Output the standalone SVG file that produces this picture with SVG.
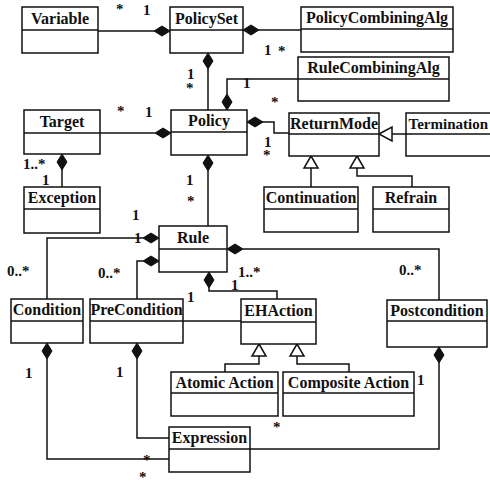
<svg xmlns="http://www.w3.org/2000/svg" width="490" height="486" viewBox="0 0 490 486">
<style>
.box{fill:#fff;stroke:#111;stroke-width:1.5}
.div{stroke:#111;stroke-width:1.5}
.nm{font-family:'Liberation Serif',serif;font-weight:bold;font-size:16px;fill:#111;text-anchor:middle}
.lb{font-family:'Liberation Serif',serif;font-weight:bold;font-size:15px;fill:#111}
.cn{fill:none;stroke:#111;stroke-width:1.5}
.dm{fill:#111;stroke:#111;stroke-width:1}
.tr{fill:#fff;stroke:#111;stroke-width:1.5}
</style>
<defs>
<path id="dh" d="M-8,0 L0,-5 L8,0 L0,5 Z"/>
<path id="dv" d="M0,-8 L5,0 L0,8 L-5,0 Z"/>
<path id="tu" d="M0,0 L7,12 L-7,12 Z"/>
<path id="tl" d="M0,0 L13,-7 L13,7 Z"/>
</defs>
<rect width="490" height="486" fill="#fff"/>

<g id="connectors">
<path class="cn" d="M98,31 H155"/>
<path class="cn" d="M258,30 H301"/>
<path class="cn" d="M208,68 V110"/>
<path class="cn" d="M227,95 V79 H298"/>
<path class="cn" d="M100,133 H155"/>
<path class="cn" d="M262,122 H274 V133 H289"/>
<path class="cn" d="M392,134 H406"/>
<path class="cn" d="M311,168 V187"/>
<path class="cn" d="M357,168 V176 H412 V187"/>
<path class="cn" d="M62,169 V187"/>
<path class="cn" d="M208,170 V226"/>
<path class="cn" d="M143,238 H47 V299"/>
<path class="cn" d="M143,261 H137 V299"/>
<path class="cn" d="M209,287 V291 H277 V299"/>
<path class="cn" d="M243,249 H439 V300"/>
<path class="cn" d="M183,321 H241"/>
<path class="cn" d="M259,356 V364 H225 V372"/>
<path class="cn" d="M297,356 V364 H349 V372"/>
<path class="cn" d="M47,358 V459 H169"/>
<path class="cn" d="M137,358 V438 H169"/>
<path class="cn" d="M439,362 V449 H250"/>
<use href="#dh" class="dm" x="162" y="31"/>
<use href="#dh" class="dm" x="251" y="30"/>
<use href="#dv" class="dm" x="208" y="61"/>
<use href="#dv" class="dm" x="227" y="102"/>
<use href="#dh" class="dm" x="163" y="133"/>
<use href="#dh" class="dm" x="255" y="122"/>
<use href="#tl" class="tr" x="379" y="134"/>
<use href="#tu" class="tr" x="311" y="156"/>
<use href="#tu" class="tr" x="357" y="156"/>
<use href="#dv" class="dm" x="62" y="162"/>
<use href="#dv" class="dm" x="208" y="163"/>
<use href="#dh" class="dm" x="151" y="238"/>
<use href="#dh" class="dm" x="151" y="261"/>
<use href="#dv" class="dm" x="209" y="280"/>
<use href="#dh" class="dm" x="235" y="249"/>
<use href="#tu" class="tr" x="259" y="344"/>
<use href="#tu" class="tr" x="297" y="344"/>
<use href="#dv" class="dm" x="47" y="351"/>
<use href="#dv" class="dm" x="137" y="351"/>
<use href="#dv" class="dm" x="439" y="355"/>
</g>

<g id="labels">
<text class="lb" x="116" y="14">*</text>
<text class="lb" x="143" y="15">1</text>
<text class="lb" x="264" y="55">1</text>
<text class="lb" x="278" y="56">*</text>
<text class="lb" x="187" y="79">1</text>
<text class="lb" x="186" y="93">*</text>
<text class="lb" x="243" y="88">1</text>
<text class="lb" x="271" y="107">*</text>
<text class="lb" x="117" y="116">*</text>
<text class="lb" x="145" y="117">1</text>
<text class="lb" x="264" y="147">1</text>
<text class="lb" x="263" y="160">*</text>
<text class="lb" x="23" y="169">1..*</text>
<text class="lb" x="42" y="185">1</text>
<text class="lb" x="186" y="185">1</text>
<text class="lb" x="187" y="206">*</text>
<text class="lb" x="132" y="220">1</text>
<text class="lb" x="134" y="243">1</text>
<text class="lb" x="7" y="276">0..*</text>
<text class="lb" x="98" y="278">0..*</text>
<text class="lb" x="238" y="277">1..*</text>
<text class="lb" x="231" y="290">1</text>
<text class="lb" x="187" y="302">1</text>
<text class="lb" x="399" y="275">0..*</text>
<text class="lb" x="417" y="385">1</text>
<text class="lb" x="273" y="432">*</text>
<text class="lb" x="25" y="378">1</text>
<text class="lb" x="116" y="377">1</text>
<text class="lb" x="143" y="465">*</text>
<text class="lb" x="139" y="482">*</text>
</g>

<g id="Variable"><rect class="box" x="22" y="7" width="76" height="46"/><line class="div" x1="22" y1="30" x2="98" y2="30"/><text class="nm" x="60" y="24">Variable</text></g>
<g id="PolicySet"><rect class="box" x="170" y="7" width="73" height="46"/><line class="div" x1="170" y1="30" x2="243" y2="30"/><text class="nm" x="206.5" y="24">PolicySet</text></g>
<g id="PolicyCombiningAlg"><rect class="box" x="301" y="7" width="152" height="45"/><line class="div" x1="301" y1="29" x2="453" y2="29"/><text class="nm" x="377" y="23">PolicyCombiningAlg</text></g>
<g id="RuleCombiningAlg"><rect class="box" x="298" y="57" width="151" height="44"/><line class="div" x1="298" y1="79" x2="449" y2="79"/><text class="nm" x="373.5" y="73">RuleCombiningAlg</text></g>
<g id="Target"><rect class="box" x="24" y="110" width="76" height="44"/><line class="div" x1="24" y1="133" x2="100" y2="133"/><text class="nm" x="62" y="127">Target</text></g>
<g id="Policy"><rect class="box" x="171" y="110" width="76" height="45"/><line class="div" x1="171" y1="132" x2="247" y2="132"/><text class="nm" x="209" y="126">Policy</text></g>
<g id="ReturnMode"><rect class="box" x="289" y="113" width="90" height="43"/><line class="div" x1="289" y1="134" x2="379" y2="134"/><text class="nm" x="334" y="129">ReturnMode</text></g>
<g id="Termination"><rect class="box" x="406" y="113" width="95" height="43"/><line class="div" x1="406" y1="134" x2="501" y2="134"/><text class="nm" x="488" y="129" style="text-anchor:end;font-size:15px">Termination</text></g>
<g id="Exception"><rect class="box" x="24" y="187" width="76" height="46"/><line class="div" x1="24" y1="209" x2="100" y2="209"/><text class="nm" x="62" y="203">Exception</text></g>
<g id="Continuation"><rect class="box" x="264" y="187" width="94" height="45"/><line class="div" x1="264" y1="209" x2="358" y2="209"/><text class="nm" x="311" y="203">Continuation</text></g>
<g id="Refrain"><rect class="box" x="373" y="187" width="76" height="45"/><line class="div" x1="373" y1="209" x2="449" y2="209"/><text class="nm" x="411" y="203">Refrain</text></g>
<g id="Rule"><rect class="box" x="159" y="226" width="68" height="46"/><line class="div" x1="159" y1="249" x2="227" y2="249"/><text class="nm" x="193" y="243">Rule</text></g>
<g id="Condition"><rect class="box" x="11" y="299" width="72" height="44"/><line class="div" x1="11" y1="321" x2="83" y2="321"/><text class="nm" x="47" y="315">Condition</text></g>
<g id="PreCondition"><rect class="box" x="90" y="299" width="93" height="44"/><line class="div" x1="90" y1="321" x2="183" y2="321"/><text class="nm" x="136.5" y="315">PreCondition</text></g>
<g id="EHAction"><rect class="box" x="241" y="299" width="75" height="45"/><line class="div" x1="241" y1="322" x2="316" y2="322"/><text class="nm" x="278.5" y="316">EHAction</text></g>
<g id="Postcondition"><rect class="box" x="387" y="300" width="100" height="47"/><line class="div" x1="387" y1="321" x2="487" y2="321"/><text class="nm" x="437" y="316">Postcondition</text></g>
<g id="AtomicAction"><rect class="box" x="171" y="372" width="107" height="44"/><line class="div" x1="171" y1="393" x2="278" y2="393"/><text class="nm" x="224.5" y="388">Atomic Action</text></g>
<g id="CompositeAction"><rect class="box" x="283" y="372" width="131" height="44"/><line class="div" x1="283" y1="393" x2="414" y2="393"/><text class="nm" x="348.5" y="388">Composite Action</text></g>
<g id="Expression"><rect class="box" x="169" y="427" width="81" height="45"/><line class="div" x1="169" y1="449" x2="250" y2="449"/><text class="nm" x="209.5" y="443">Expression</text></g>
</svg>
